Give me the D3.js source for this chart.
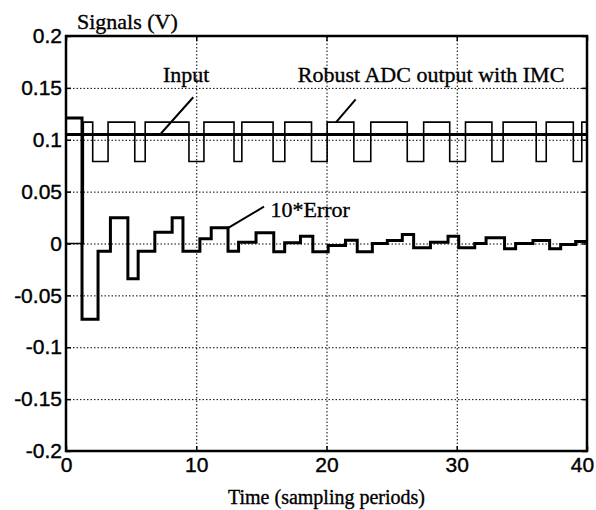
<!DOCTYPE html>
<html>
<head>
<meta charset="utf-8">
<script src="https://cdn.jsdelivr.net/npm/d3@7"></script>
<style>
  body{margin:0;background:#fff;}
  .tick text{font-family:"Liberation Sans",Arial,sans-serif;font-size:21px;fill:#000;stroke:#000;stroke-width:0.4;}
  .lbl{font-family:"Liberation Serif","Times New Roman",serif;fill:#000;stroke:#000;stroke-width:0.35;}
</style>
</head>
<body>
<svg id="chart" width="596" height="510"></svg>
<script>
// axis ticks
var xTicks = [0,10,20,30,40];
var xTickLabels = ['0','10','20','30','40'];
var yTicks = [-0.2,-0.15,-0.1,-0.05,0,0.05,0.1,0.15,0.2];
var yTickLabels = ['-0.2','-0.15','-0.1','-0.05','0','0.05','0.1','0.15','0.2'];

// input (constant reference)
var inputT = [0,40];
var inputV = [0.105,0.105];

// robust ADC output (step change times / levels)
var outT = [0,1.33,2.05,3.23,5.28,6.08,9.44,10.59,12.9,13.5,15.9,16.8,18.85,20.05,22.1,23.4,
            26.2,27.46,29.46,30.67,32.7,33.56,36.1,36.87,38.95,39.6,40];
var outV = [0,0.117,0.079,0.117,0.079,0.117,0.079,0.117,0.079,0.117,0.079,0.117,0.079,0.117,
            0.079,0.117,0.079,0.117,0.079,0.117,0.079,0.117,0.079,0.117,0.079,0.117,0.117];

// 10*error
var errT = [0,1.23,2.46,3.41,4.75,5.54,6.82,8.15,8.98,10.28,11.15,12.44,13.25,14.59,15.95,16.79,
            18.0,18.95,20.13,21.46,22.36,23.52,24.67,25.82,26.69,27.98,29.33,30.15,31.38,32.25,
            33.67,34.52,35.85,37.13,37.98,39.13,40];
var errV = [0.121,-0.073,-0.0074,0.0247,-0.034,-0.0074,0.0109,0.0247,-0.0074,0.0045,0.0151,-0.0074,
            0.0013,0.0103,-0.008,0.0007,0.007,-0.008,-0.002,0.0032,-0.008,0,0.003,0.0087,-0.0042,
            0.0013,0.007,-0.004,0,0.0055,-0.005,0,0.003,-0.005,-0.001,0.002,0.002];

// annotations: text anchor and leader line in data units
var notes = [
  {text:'Input', t:7.45, v:0.1555, line:[[9.77,0.141],[7.29,0.106]]},
  {text:'Robust ADC output with IMC', t:17.8, v:0.1555, line:[[22.24,0.139],[20.71,0.1165]]},
  {text:'10*Error', t:15.7, v:0.0255, line:[[15.2,0.0355],[12.46,0.0151]]}
];

var L = 66, R = 587, T = 36, B = 451;
var svg = d3.select('#chart');
svg.append('rect').attr('width',596).attr('height',510).attr('fill','#fff');

var x = d3.scaleLinear().domain([0,40]).range([L,R]);
var y = d3.scaleLinear().domain([-0.2,0.2]).range([B,T]);

// grid
var gx = svg.append('g').attr('transform','translate(0,'+B+')')
  .call(d3.axisBottom(x).tickValues(xTicks.slice(1,-1)).tickSize(-(B-T)).tickFormat(''));
var gy = svg.append('g').attr('transform','translate('+L+',0)')
  .call(d3.axisLeft(y).tickValues(yTicks.slice(1,-1)).tickSize(-(R-L)).tickFormat(''));
[gx,gy].forEach(function(g){
  g.select('.domain').remove();
  g.selectAll('line').attr('stroke','#000').attr('stroke-width',1).attr('stroke-dasharray','1.5,2');
});

// axes with inward ticks
var xAxis = svg.append('g').attr('transform','translate(0,'+B+')')
  .call(d3.axisBottom(x).tickValues(xTicks).tickSize(-5).tickPadding(6)
    .tickFormat(function(d,i){return xTickLabels[i];}));
xAxis.selectAll('.tick text').filter(function(d){return d===40;}).attr('dx','-5');
var yAxis = svg.append('g').attr('transform','translate('+L+',0)')
  .call(d3.axisLeft(y).tickValues(yTicks).tickSize(-5).tickPadding(4)
    .tickFormat(function(d,i){return yTickLabels[i];}));
var xTop = svg.append('g').attr('transform','translate(0,'+T+')')
  .call(d3.axisTop(x).tickValues(xTicks).tickSize(-5).tickFormat(''));
var yRight = svg.append('g').attr('transform','translate('+R+',0)')
  .call(d3.axisRight(y).tickValues(yTicks).tickSize(-5).tickFormat(''));
[xAxis,yAxis,xTop,yRight].forEach(function(g){
  g.select('.domain').remove();
  g.selectAll('line').attr('stroke','#000').attr('stroke-width',1.5);
});

// series
var step = d3.line().curve(d3.curveStepAfter)
  .x(function(d){return x(d[0]);}).y(function(d){return y(d[1]);});
function pairs(ts,vs){return ts.map(function(t,i){return [t,vs[i]];});}

svg.append('path').attr('d',step(pairs(outT,outV)))
  .attr('fill','none').attr('stroke','#000').attr('stroke-width',1.6);
svg.append('path').attr('d',step(pairs(inputT,inputV)))
  .attr('fill','none').attr('stroke','#000').attr('stroke-width',3);
svg.append('path').attr('d',step(pairs(errT,errV)))
  .attr('fill','none').attr('stroke','#000').attr('stroke-width',3).attr('stroke-linejoin','miter');

// box
svg.append('rect').attr('x',L).attr('y',T).attr('width',R-L).attr('height',B-T)
  .attr('fill','none').attr('stroke','#000').attr('stroke-width',2.5);

// annotations
var seg = d3.line().x(function(d){return x(d[0]);}).y(function(d){return y(d[1]);});
notes.forEach(function(n){
  svg.append('path').attr('d',seg(n.line)).attr('stroke','#000').attr('stroke-width',2).attr('fill','none');
  svg.append('text').attr('class','lbl').attr('x',x(n.t)).attr('y',y(n.v))
    .style('font-size','22px').text(n.text);
});

// titles
svg.append('text').attr('class','lbl').attr('x',77).attr('y',29).style('font-size','22px').text('Signals (V)');
svg.append('text').attr('class','lbl').attr('x',(L+R)/2).attr('y',504).attr('text-anchor','middle')
  .style('font-size','20px').text('Time (sampling periods)');
</script>
</body>
</html>
